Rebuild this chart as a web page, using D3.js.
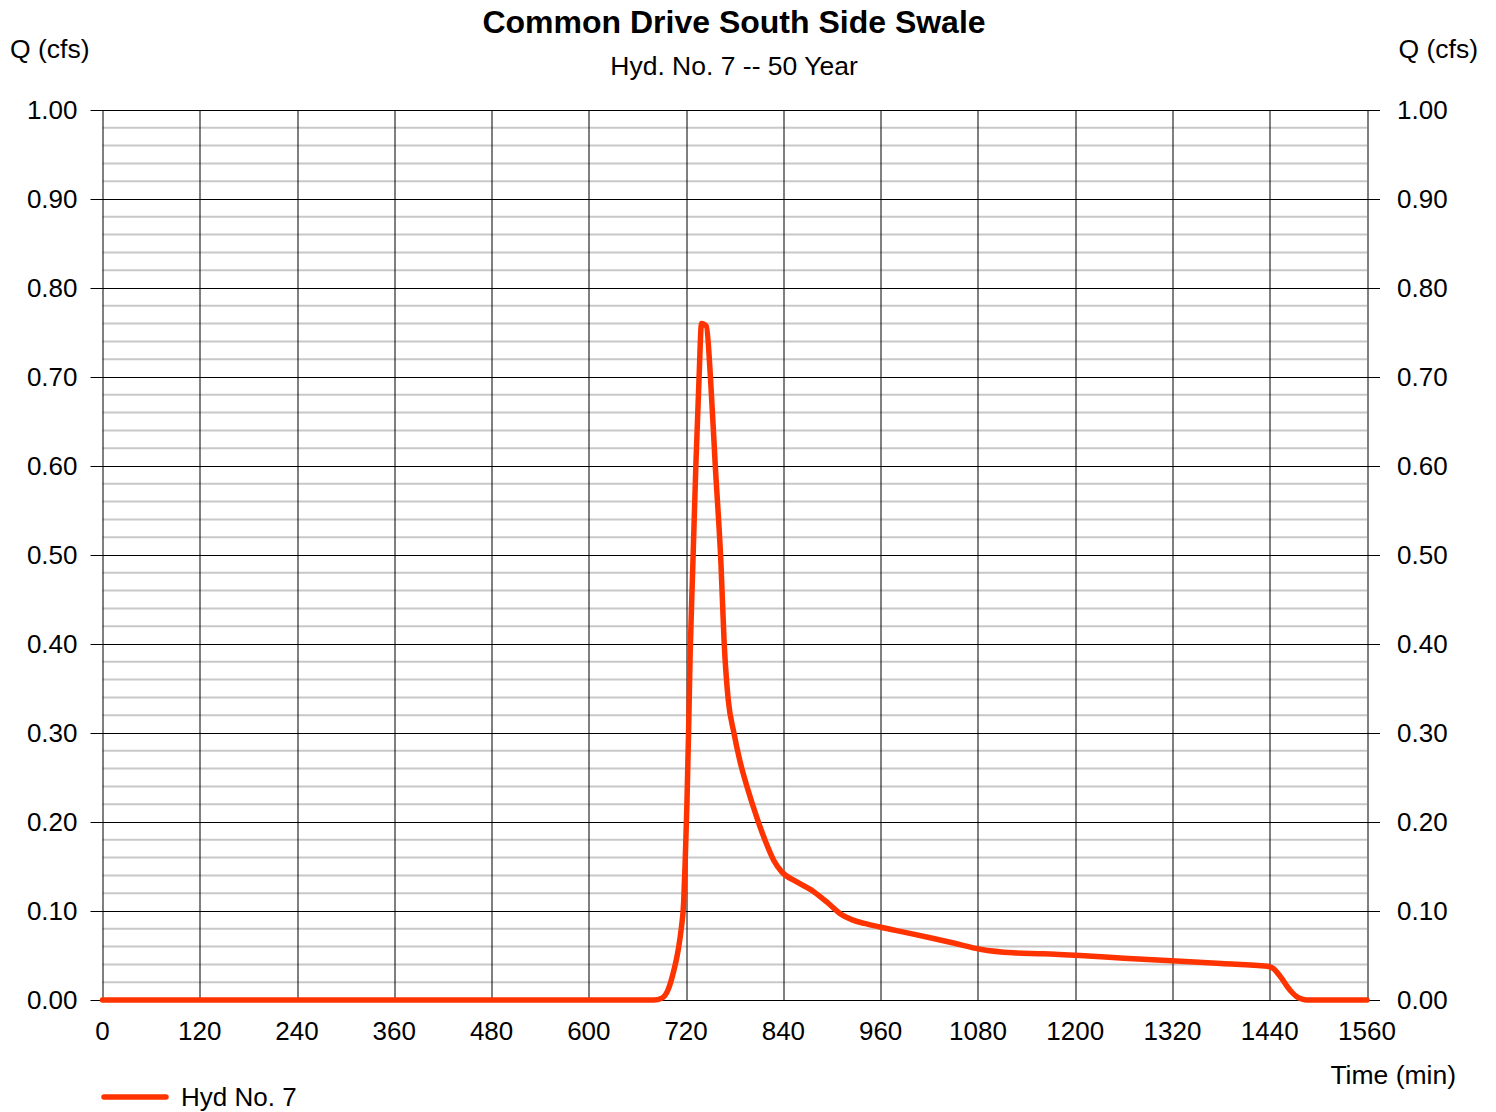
<!DOCTYPE html>
<html>

<head>
  <meta charset="UTF-8" />
  <title>Common Drive South Side Swale</title>
  <style>
    body {
      margin: 0;
      background: white;
      font-family: Arial, "Liberation Sans", sans-serif;
    }
  </style>
  <script src="https://d3js.org/d3.v7.min.js"></script>
</head>

<body>
  <div id="chart"></div>
  <script>
    // hydrograph values
    const timeMin = [0, 680, 690, 698, 704, 710, 714, 717, 719, 721, 723, 725, 728, 732, 736, 739, 745,
      750, 756, 763, 767, 769, 772, 779, 786, 796, 808, 818, 828, 838, 856, 877, 895, 910, 925, 940, 959,
      990, 1021, 1050, 1083, 1123, 1160, 1206, 1260, 1319, 1380, 1437, 1445, 1449, 1455, 1461,
      1467, 1473, 1480, 1486, 1560];
    const flowCfs = [0, 0, 0.002, 0.012, 0.03, 0.055, 0.08, 0.11, 0.16, 0.22, 0.30, 0.39, 0.48, 0.60, 0.70, 0.76, 0.757,
      0.70, 0.60, 0.49, 0.40, 0.37, 0.337, 0.30, 0.27, 0.237, 0.203, 0.178, 0.157, 0.144, 0.133, 0.122, 0.109, 0.097, 0.090, 0.086, 0.082,
      0.076, 0.070, 0.064, 0.057, 0.053, 0.052, 0.050, 0.047, 0.044, 0.041, 0.038, 0.035, 0.031, 0.024, 0.016,
      0.009, 0.004, 0.001, 0, 0];
    const xTicks = [0, 120, 240, 360, 480, 600, 720, 840, 960, 1080, 1200, 1320, 1440, 1560];
    const yTicks = [0, 0.1, 0.2, 0.3, 0.4, 0.5, 0.6, 0.7, 0.8, 0.9, 1.0];
    const yMinor = d3.range(0.02, 1.0, 0.02).filter(v => Math.abs(v * 10 - Math.round(v * 10)) > 0.01);

    const W = 1496, H = 1112;
    let margin = { top: 110, right: 129, bottom: 112, left: 102.5 },
      width = W - margin.left - margin.right,
      height = H - margin.top - margin.bottom;

    let svg = d3.select("#chart")
      .append("svg")
      .attr("width", W)
      .attr("height", H)
      .style("font-family", "Arial, 'Liberation Sans', sans-serif");

    let g = svg.append("g")
      .attr("transform", "translate(" + margin.left + "," + margin.top + ")");

    let xScale = d3.scaleLinear().domain([0, 1560]).range([0, width]);
    let yScale = d3.scaleLinear().domain([0, 1]).range([height, 0]);

    /* minor grid */
    g.selectAll("line.minor")
      .data(yMinor)
      .enter()
      .append("line")
      .attr("x1", 0)
      .attr("x2", width)
      .attr("y1", d => yScale(d))
      .attr("y2", d => yScale(d))
      .attr("stroke", "#c8c8c8")
      .attr("stroke-width", 2);

    /* major grid, with ticks sticking out both sides */
    g.selectAll("line.major")
      .data(yTicks)
      .enter()
      .append("line")
      .attr("x1", -12)
      .attr("x2", width + 13)
      .attr("y1", d => Math.round(yScale(d)) + 0.5)
      .attr("y2", d => Math.round(yScale(d)) + 0.5)
      .attr("stroke", "black")
      .attr("stroke-width", 1);

    g.selectAll("line.vgrid")
      .data(xTicks)
      .enter()
      .append("line")
      .attr("x1", d => Math.round(xScale(d)) + 0.5)
      .attr("x2", d => Math.round(xScale(d)) + 0.5)
      .attr("y1", 0)
      .attr("y2", height)
      .attr("stroke", "black")
      .attr("stroke-width", 1);

    /* tick labels */
    const fmt = d3.format(".2f");
    g.selectAll("text.yl")
      .data(yTicks)
      .enter()
      .append("text")
      .attr("x", -25)
      .attr("y", d => yScale(d) + 9)
      .attr("text-anchor", "end")
      .style("font-size", "26px")
      .text(d => fmt(d));

    g.selectAll("text.yr")
      .data(yTicks)
      .enter()
      .append("text")
      .attr("x", width + 30)
      .attr("y", d => yScale(d) + 9)
      .attr("text-anchor", "start")
      .style("font-size", "26px")
      .text(d => fmt(d));

    g.selectAll("text.xl")
      .data(xTicks)
      .enter()
      .append("text")
      .attr("x", d => xScale(d))
      .attr("y", height + 40)
      .attr("text-anchor", "middle")
      .style("font-size", "26px")
      .text(d => d);

    /* hydrograph */
    let line = d3.line()
      .x((d, i) => xScale(timeMin[i]))
      .y(d => yScale(d))
      .curve(d3.curveMonotoneX);

    g.append("path")
      .datum(flowCfs)
      .attr("d", line)
      .attr("fill", "none")
      .attr("stroke", "#ff3300")
      .attr("stroke-width", 5.5)
      .attr("stroke-linejoin", "round")
      .attr("stroke-linecap", "round");

    /* titles */
    svg.append("text")
      .attr("x", 734)
      .attr("y", 33)
      .attr("text-anchor", "middle")
      .style("font-size", "32px")
      .style("font-weight", "bold")
      .text("Common Drive South Side Swale");

    svg.append("text")
      .attr("x", 734)
      .attr("y", 75)
      .attr("text-anchor", "middle")
      .style("font-size", "26.5px")
      .text("Hyd. No. 7 -- 50 Year");

    svg.append("text")
      .attr("x", 10)
      .attr("y", 58)
      .style("font-size", "26.5px")
      .text("Q (cfs)");

    svg.append("text")
      .attr("x", 1478)
      .attr("y", 58)
      .attr("text-anchor", "end")
      .style("font-size", "26.5px")
      .text("Q (cfs)");

    svg.append("text")
      .attr("x", 1456)
      .attr("y", 1084)
      .attr("text-anchor", "end")
      .style("font-size", "26.5px")
      .text("Time (min)");

    /* legend */
    svg.append("line")
      .attr("x1", 104)
      .attr("x2", 166)
      .attr("y1", 1097)
      .attr("y2", 1097)
      .attr("stroke", "#ff3300")
      .attr("stroke-width", 5.5)
      .attr("stroke-linecap", "round");

    svg.append("text")
      .attr("x", 181)
      .attr("y", 1106)
      .style("font-size", "26px")
      .text("Hyd No. 7");
  </script>
</body>

</html>
